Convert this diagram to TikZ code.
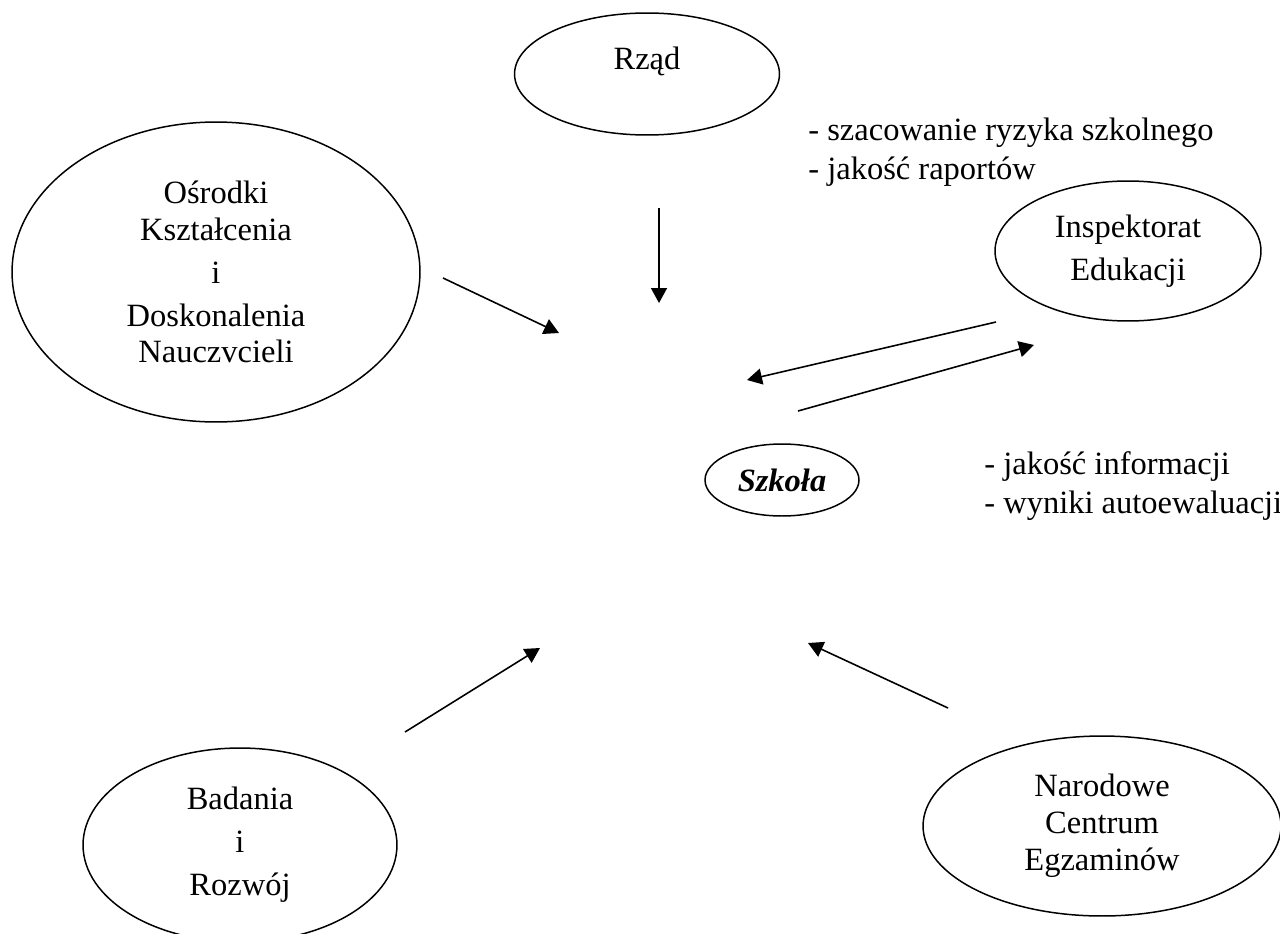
\documentclass[tikz,border=0pt]{standalone}
\usepackage{fontspec}
\setmainfont{Liberation Serif}
\usepackage{tikz}
\usetikzlibrary{arrows.meta,shapes.geometric,positioning}

\begin{document}
\begin{tikzpicture}[x=0.02cm,y=-0.02cm,
                    every node/.style={font=\fontsize{18.5}{21}\selectfont},
                    blob/.style={draw,ellipse,line width=0.85pt,inner sep=0pt,align=center},
                    note/.style={align=left,anchor=west,inner sep=0pt},
                    flow/.style={-{Triangle[length=0.3cm,width=0.32cm]},line width=0.9pt}]
                \useasboundingbox (0,0) rectangle (1280,933);
                \clip (0,0) rectangle (1280,933);
                \node [blob,minimum width=5.3cm,minimum height=2.44cm]  (rzad)  at (647,74)   {};
                \node [inner sep=0pt]                                   (rzadt) at (647,61)   {Rząd};
                \node [blob,minimum width=8.16cm,minimum height=6cm]    (osr)   at (216,272)  {Ośrodki\\Kształcenia\\[3.4pt]i\\[3.4pt]Doskonalenia\\Nauczvcieli};
                \node [blob,minimum width=5.32cm,minimum height=2.8cm]  (insp)  at (1128,251) {Inspektorat\\[3.4pt]Edukacji};
                \node [blob,minimum width=3.08cm,minimum height=1.44cm] (szk)   at (782,480)  {\textbf{\textit{Szkoła}}};
                \node [blob,minimum width=6.28cm,minimum height=3.88cm] (bad)   at (240,845)  {Badania\\[3.4pt]i\\[3.4pt]Rozwój};
                \node [blob,minimum width=7.16cm,minimum height=3.6cm]  (nce)   at (1102,826) {Narodowe\\Centrum\\Egzaminów};
                \node [note] (top)  at (808,152) {- szacowanie ryzyka szkolnego\\[1pt]- jakość raportów};
                \node [note] (low)  at (984,486) {- jakość informacji\\[1pt]- wyniki autoewaluacji};
                % free arrow ends
                \coordinate (r1) at (659,208);  \coordinate (r2) at (659,303);
                \coordinate (o1) at (443,278);  \coordinate (o2) at (559,333);
                \coordinate (i1) at (996,322);  \coordinate (i2) at (747,380);
                \coordinate (s1) at (798,411);  \coordinate (s2) at (1034,345);
                \coordinate (b1) at (405,732);  \coordinate (b2) at (540,648);
                \coordinate (n1) at (948,708);  \coordinate (n2) at (808,643);
                \draw [flow] (r1) -- (r2);
                \draw [flow] (o1) -- (o2);
                \draw [flow] (i1) -- (i2);
                \draw [flow] (s1) -- (s2);
                \draw [flow] (b1) -- (b2);
                \draw [flow] (n1) -- (n2);
            \end{tikzpicture}
\end{document}
